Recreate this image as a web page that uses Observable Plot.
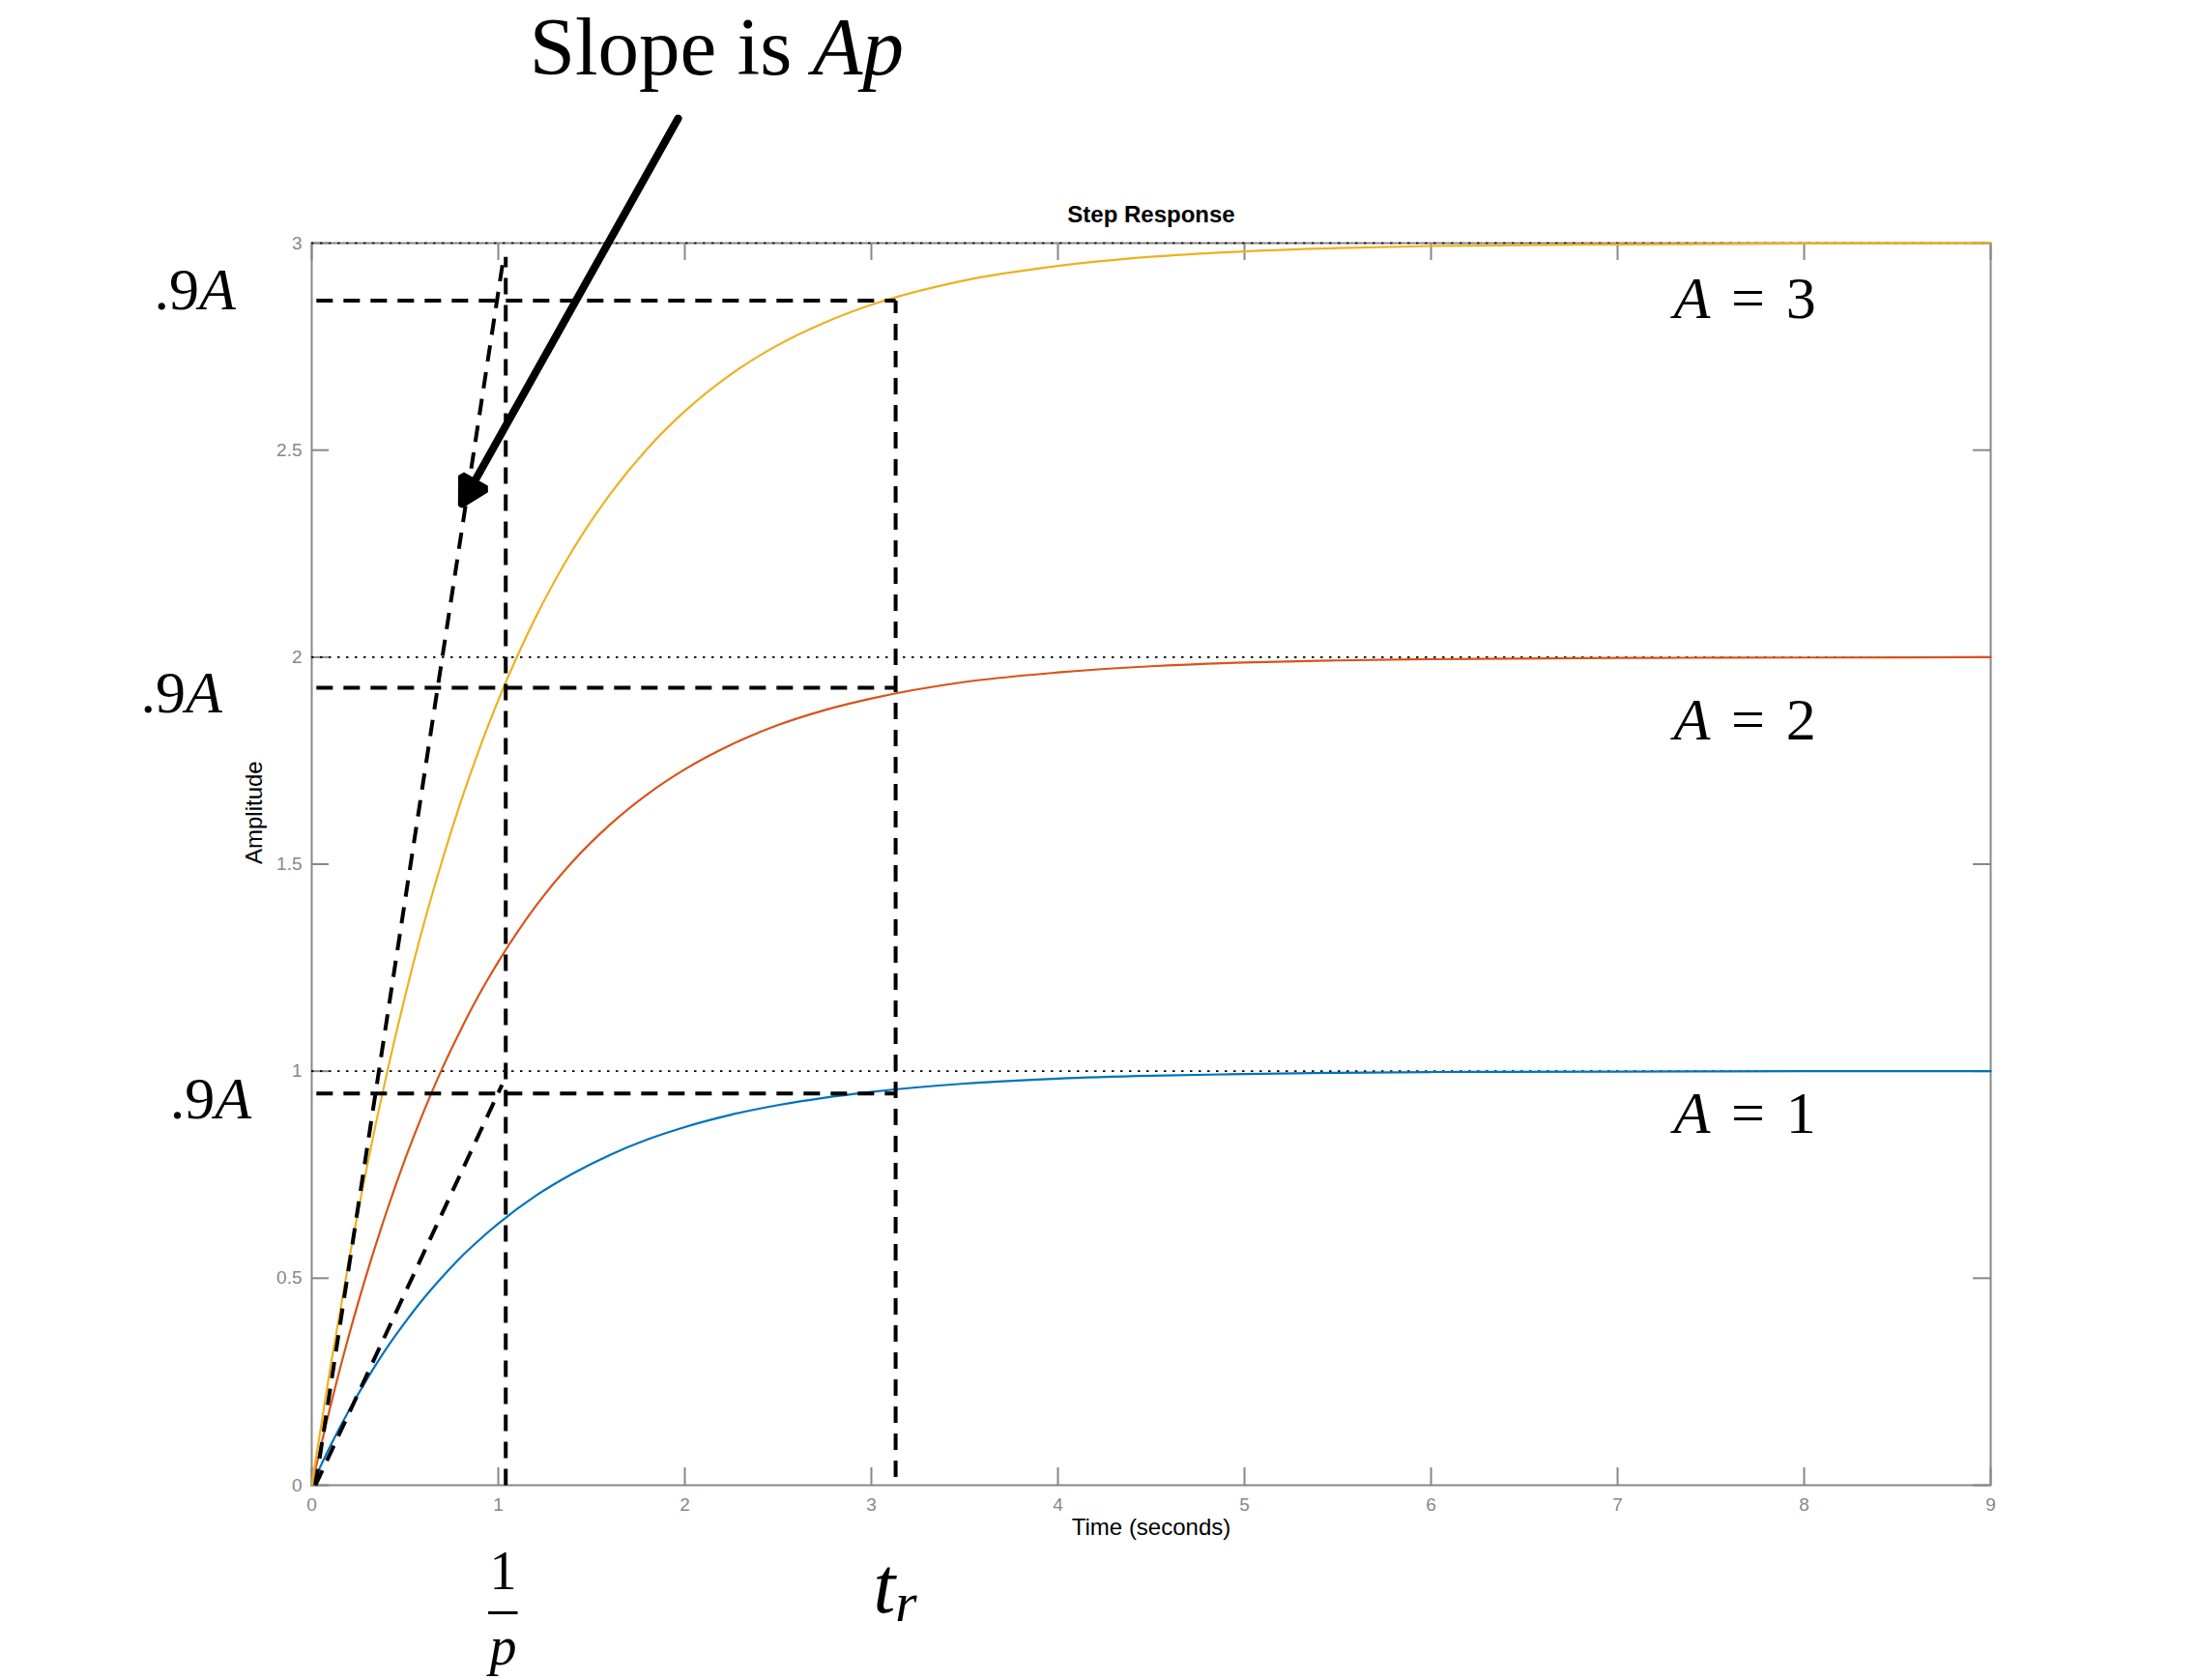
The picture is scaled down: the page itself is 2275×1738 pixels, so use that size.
<!DOCTYPE html>
<html>
<head>
<meta charset="utf-8">
<script src="https://cdn.jsdelivr.net/npm/d3@7"></script>
<script src="https://cdn.jsdelivr.net/npm/@observablehq/plot@0.6"></script>
<style>
  html, body { margin: 0; padding: 0; background: #fff; }
  #chart svg { display: block; }
</style>
</head>
<body>
<div id="chart"></div>
<script>
// ---------- data ----------
const amplitudes = [1, 2, 3];
const seriesColors = ["#0072BD", "#D95319", "#EDB120"];
const time = [0, 0.1, 0.2, 0.3, 0.4, 0.5, 0.6, 0.7, 0.8, 0.9, 1.0, 1.2, 1.4, 1.6, 1.8, 2.0, 2.25, 2.5, 2.75, 3.0, 3.5, 4.0, 4.5, 5.0, 5.5, 6.0, 7.0, 8.0, 9.0];
const responseA1 = [0, 0.095, 0.181, 0.259, 0.330, 0.393, 0.451, 0.503, 0.551, 0.593, 0.632, 0.699, 0.753, 0.798, 0.835, 0.865, 0.895, 0.918, 0.936, 0.950, 0.970, 0.982, 0.989, 0.993, 0.996, 0.998, 0.999, 1.0, 1.0];
const responseA2 = [0, 0.190, 0.363, 0.518, 0.659, 0.787, 0.902, 1.007, 1.101, 1.187, 1.264, 1.398, 1.507, 1.596, 1.669, 1.729, 1.789, 1.836, 1.872, 1.900, 1.940, 1.963, 1.978, 1.987, 1.992, 1.995, 1.998, 1.999, 2.0];
const responseA3 = [0, 0.285, 0.544, 0.778, 0.989, 1.180, 1.354, 1.510, 1.652, 1.780, 1.896, 2.096, 2.260, 2.394, 2.504, 2.594, 2.684, 2.754, 2.808, 2.851, 2.910, 2.945, 2.967, 2.980, 2.988, 2.993, 2.997, 2.999, 3.0];
const xTicks = [0, 1, 2, 3, 4, 5, 6, 7, 8, 9];
const yTicks = [0, 0.5, 1, 1.5, 2, 2.5, 3];

// annotation values (data units)
const levelValues = [0.946, 1.926, 2.861];
const timeConstant = 1.04;
const riseTime = 3.13;
const hDashes = levelValues.map(y => ({x1: 0.025, x2: riseTime, y}));
const vDashes = [{x: timeConstant, y1: 0, y2: 2.967}, {x: riseTime, y1: 0.02, y2: 2.861}];
const slopeLines = [{x1: 0.02, y1: 0, x2: 1.03, y2: 2.97}, {x1: 0.02, y1: 0, x2: 1.02, y2: 0.967}];
const arrowLine = [{x1: 1.964, y1: 3.301, x2: 0.805, y2: 2.37}];
const levelLabels = [
  {x: -0.845, y: 2.839, text: ".9A"},
  {x: -0.917, y: 1.866, text: ".9A"},
  {x: -0.760, y: 0.885, text: ".9A"}
];
const ampLabels = [
  {x: 7.30, y: 2.818, text: "A = 3"},
  {x: 7.30, y: 1.802, text: "A = 2"},
  {x: 7.30, y: 0.850, text: "A = 1"}
];
const slopeLabel = [{x: 2.17, y: 3.408, text: "Slope is Ap"}];
const fracNum = [{x: 1.026, y: -0.252, text: "1"}];
const fracBar = [{x1: 0.946, x2: 1.104, y: -0.308}];
const fracDen = [{x: 1.026, y: -0.432, text: "p"}];
const riseLabel = [{x: 3.01, y: -0.306, text: "tr"}];

// ---------- build ----------
const responses = [responseA1, responseA2, responseA3];
const rows = amplitudes.flatMap((A, k) => time.map((t, i) => ({t, v: responses[k][i], A})));

const W = 2275, H = 1738, ML = 322, MR = 216, MT = 251, MB = 202;
const FW = W - ML - MR, FH = H - MT - MB, TICK = 18;
const GRAY = "#878787";
const SERIF = "'Liberation Serif', 'Times New Roman', serif";
const dash = {stroke: "#000", strokeWidth: 4, strokeDasharray: "17,11"};

const plot = Plot.plot({
  width: W, height: H,
  marginLeft: ML, marginRight: MR, marginTop: MT, marginBottom: MB,
  x: {domain: [0, 9]},
  y: {domain: [0, 3]},
  color: {domain: amplitudes, range: seriesColors},
  style: {background: "#fff", fontFamily: "'Liberation Sans', Arial, sans-serif", overflow: "visible"},
  marks: [
    Plot.frame({stroke: GRAY, strokeWidth: 2}),
    Plot.tickX(xTicks, {x: d => d, insetTop: FH - TICK, stroke: GRAY, strokeWidth: 2}),
    Plot.tickX(xTicks, {x: d => d, insetBottom: FH - TICK, stroke: GRAY, strokeWidth: 2}),
    Plot.tickY(yTicks, {y: d => d, insetRight: FW - TICK, stroke: GRAY, strokeWidth: 2}),
    Plot.tickY(yTicks, {y: d => d, insetLeft: FW - TICK, stroke: GRAY, strokeWidth: 2}),
    Plot.axisX(xTicks, {anchor: "bottom", tickSize: 0, tickPadding: 13, fontSize: 19, color: GRAY, label: null, tickFormat: d => String(d)}),
    Plot.axisY(yTicks, {anchor: "left", tickSize: 0, tickPadding: 10, fontSize: 19, color: GRAY, label: null, tickFormat: d => String(d)}),
    Plot.ruleY(amplitudes, {y: d => d, stroke: "#000", strokeWidth: 1.6, strokeDasharray: "2.5,6.5"}),
    Plot.line(rows, {x: "t", y: "v", stroke: "A", strokeWidth: 2.2, curve: "monotone-x"}),
    Plot.link(hDashes, {x1: "x1", x2: "x2", y1: "y", y2: "y", ...dash}),
    Plot.link(vDashes, {x1: "x", x2: "x", y1: "y1", y2: "y2", ...dash}),
    Plot.link(slopeLines, {x1: "x1", y1: "y1", x2: "x2", y2: "y2", ...dash}),
    Plot.arrow(arrowLine, {x1: "x1", y1: "y1", x2: "x2", y2: "y2", stroke: "#000", strokeWidth: 8, headLength: 5.5, headAngle: 58, strokeLinejoin: "miter"}),
    // titles
    Plot.text(["Step Response"], {frameAnchor: "top", dy: -22, lineAnchor: "bottom", fontSize: 24, fontWeight: "bold", fill: "#000"}),
    Plot.text(["Time (seconds)"], {frameAnchor: "bottom", dy: 51, lineAnchor: "bottom", fontSize: 24, fill: "#000"}),
    Plot.text(["Amplitude"], {frameAnchor: "left", dx: -52, rotate: -90, lineAnchor: "bottom", fontSize: 24, fill: "#000"}),
    // annotations
    Plot.text(slopeLabel, {x: "x", y: "y", text: "text", lineAnchor: "bottom", textAnchor: "middle", fontSize: 85, fontFamily: SERIF, fill: "#000"}),
    Plot.text(levelLabels, {x: "x", y: "y", text: "text", lineAnchor: "bottom", textAnchor: "start", fontSize: 62, fontFamily: SERIF, fill: "#000"}),
    Plot.text(ampLabels, {x: "x", y: "y", text: "text", lineAnchor: "bottom", textAnchor: "start", fontSize: 62, fontFamily: SERIF, fill: "#000"}),
    Plot.text(fracNum, {x: "x", y: "y", text: "text", lineAnchor: "bottom", textAnchor: "middle", fontSize: 56, fontFamily: SERIF, fill: "#000"}),
    Plot.link(fracBar, {x1: "x1", x2: "x2", y1: "y", y2: "y", stroke: "#000", strokeWidth: 3}),
    Plot.text(fracDen, {x: "x", y: "y", text: "text", lineAnchor: "bottom", textAnchor: "middle", fontSize: 56, fontStyle: "italic", fontFamily: SERIF, fill: "#000"}),
    Plot.text(riseLabel, {x: "x", y: "y", text: "text", lineAnchor: "bottom", textAnchor: "start", fontSize: 82, fontFamily: SERIF, fill: "#000"})
  ]
});

// rich text (italic math variables, subscript)
const eq = n => `<tspan font-style="italic">A</tspan><tspan dx="0.1em"> = </tspan><tspan dx="0.1em">${n}</tspan>`;
const rich = {
  "Slope is Ap": 'Slope is <tspan font-style="italic">Ap</tspan>',
  ".9A": '.9<tspan font-style="italic">A</tspan>',
  "A = 1": eq(1),
  "A = 2": eq(2),
  "A = 3": eq(3),
  "tr": '<tspan font-style="italic">t</tspan><tspan font-style="italic" font-size="0.7em" dy="0.16em">r</tspan>'
};
d3.select(plot).selectAll("text").each(function () {
  const t = this.textContent;
  if (this.childElementCount === 0 && rich[t]) this.innerHTML = rich[t];
});

// filled arrow head (close the wing sub-path)
d3.select(plot).selectAll('g[aria-label="arrow"] path')
  .attr("fill", "#000")
  .attr("d", function () { return this.getAttribute("d") + "Z"; });

document.getElementById("chart").appendChild(plot);
</script>
</body>
</html>
